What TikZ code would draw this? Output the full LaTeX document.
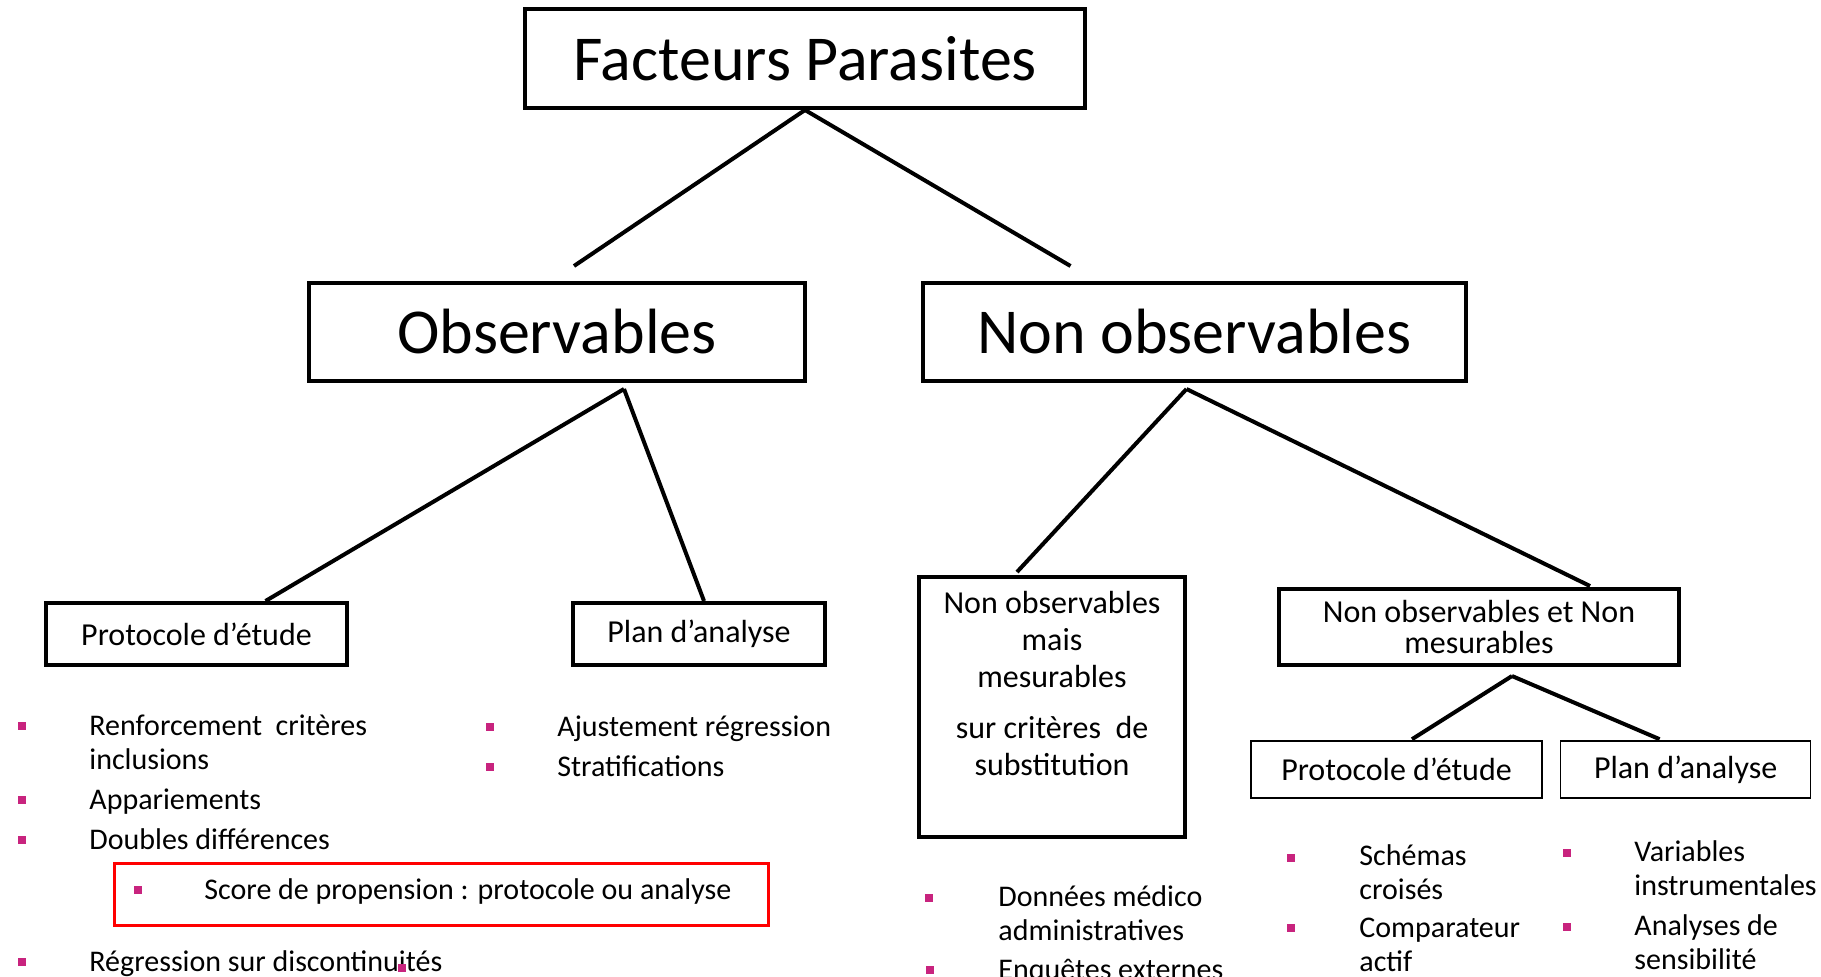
\documentclass[tikz,border=0pt]{standalone}
\usepackage{fontspec}
\setmainfont{Carlito}
\usepackage{xcolor}
\usetikzlibrary{positioning, calc}

\definecolor{bulpink}{RGB}{200,35,126}

\begin{document}
\begin{tikzpicture}[
    x=0.5pt, y=-0.5pt,
    bigbox/.style={rectangle, draw=black, line width=2pt, inner sep=0pt, align=center, font=\fontsize{32}{38}\selectfont},
    midbox/.style={rectangle, draw=black, line width=2pt, inner sep=0pt, align=center, font=\fontsize{16}{15.5}\selectfont},
    thinbox/.style={rectangle, draw=black, line width=0.8pt, inner sep=0pt, align=center, minimum height=28.5pt, font=\fontsize{16}{19}\selectfont},
    link/.style={line width=2pt},
    item/.style={anchor=base west, align=left, inner sep=0pt, font=\fontsize{15}{17}\selectfont},
    bul/.style={rectangle, fill=bulpink, minimum size=4pt, inner sep=0pt}
]
    \useasboundingbox (0,0) rectangle (1821,976);

    % Top levels
    \node (facteurs) [bigbox, minimum width=280pt, minimum height=49.5pt] at (805,58.5) {Facteurs Parasites};
    \node (obs) [bigbox, minimum width=248pt, minimum height=49pt] at (557,332) {Observables};
    \node (nonobs) [bigbox, minimum width=271.5pt, minimum height=49pt, right=57pt of obs] {Non observables};

    % Observables branch
    \node (proto) [midbox, minimum width=150.5pt, minimum height=31pt] at (196.5,634) {Protocole d’étude};
    \node (plan) [midbox, minimum width=126pt, minimum height=31pt] at (699,634) {Plan d’analyse};

    % Non observables branch
    \node (mesur) [midbox, minimum width=133pt, minimum height=130pt] at (1052,707) {};
    \node (mesurtxt) [align=center, inner sep=0pt, font=\fontsize{16}{18.5}\selectfont, below=8pt of mesur.north]
        {Non observables\\mais\\mesurables\\[7pt]sur critères\ \ de\\substitution};
    \node (nonmes) [midbox, minimum width=200pt, minimum height=38pt] at (1479,627) {Non observables et Non\\mesurables};
    \node (proto2) [thinbox, minimum width=145.5pt] at (1396.5,769.5) {Protocole d’étude};
    \node (plan2) [thinbox, minimum width=125pt, right=8.5pt of proto2] {Plan d’analyse};

    % Connectors
    \draw[link] (facteurs.south) -- ($(obs.north)+(17,-15)$);
    \draw[link] (facteurs.south) -- ($(nonobs.north)+(-124,-15)$);
    \draw[link] ($(obs.south)+(67,6)$) -- ($(proto.north)+(69,0)$);
    \draw[link] ($(obs.south)+(67,6)$) -- ($(plan.north)+(5,0)$);
    \draw[link] ($(nonobs.south)+(-8,6)$) -- ($(mesur.north)+(-35,-3)$);
    \draw[link] ($(nonobs.south)+(-8,6)$) -- ($(nonmes.north)+(111,-1)$);
    \draw[link] ($(nonmes.south)+(33,9)$) -- ($(proto2.north)+(15.5,-1)$);
    \draw[link] ($(nonmes.south)+(33,9)$) -- ($(plan2.north)+(-26,-1)$);

    % Lists under Observables (base = last line)
    \node (renf) [item] at (89,769) {Renforcement\ \ critères\\inclusions};
    \node (appa) [item] at (89,809) {Appariements};
    \node (doub) [item] at (89,849) {Doubles différences};
    \node (score) [item] at (204,899) {Score de propension : protocole ou analyse};
    \node (regr) [item] at (89,971) {Régression sur discontinuités};
    \node (ajus) [item] at (557,736) {Ajustement régression};
    \node (strat) [item] at (557,776) {Stratifications};
    \node (redbox) [rectangle, draw=red, line width=1.5pt, minimum width=327pt, minimum height=31pt] at (441,894) {};

    \node (b-renf) [bul] at (21.5,726) {};
    \node (b-appa) [bul] at (21.5,800) {};
    \node (b-doub) [bul] at (21.5,840) {};
    \node (b-score) [bul] at (138,890) {};
    \node (b-regr) [bul] at (21.5,962) {};
    \node (b-stray) [bul] at (402,968) {};
    \node (b-ajus) [bul] at (490,727) {};
    \node (b-strat) [bul] at (490,767) {};

    % Lists under Non observables
    \node (donn) [item] at (998,940) {Données médico\\administratives};
    \node (enq) [item] at (998,979) {Enquêtes externes};
    \node (schem) [item] at (1359,899) {Schémas\\croisés};
    \node (comp) [item] at (1359,971) {Comparateur\\actif};
    \node (vari) [item] at (1634,895) {Variables\\instrumentales};
    \node (anal) [item] at (1634,969) {Analyses de\\sensibilité};

    \node (b-donn) [bul] at (929,898) {};
    \node (b-enq) [bul] at (930,970) {};
    \node (b-schem) [bul] at (1291,858) {};
    \node (b-comp) [bul] at (1291,928) {};
    \node (b-vari) [bul] at (1567,853) {};
    \node (b-anal) [bul] at (1567,927) {};

\end{tikzpicture}
\end{document}
